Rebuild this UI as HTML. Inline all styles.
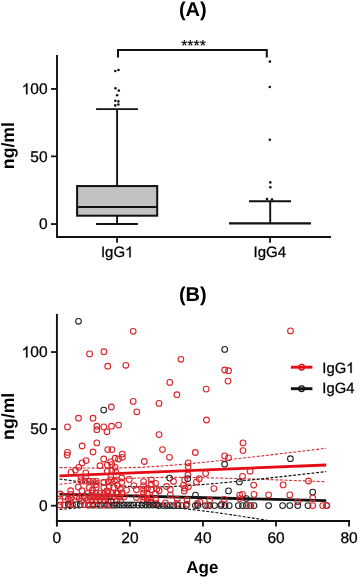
<!DOCTYPE html>
<html><head><meta charset="utf-8"><style>
html,body{margin:0;padding:0;background:#fff;}
svg{display:block;will-change:transform;}
text{font-family:"Liberation Sans",sans-serif;fill:#000;text-rendering:geometricPrecision;}
text.n{stroke:#000;stroke-width:0.28px;}
</style></head><body>
<svg width="358" height="578" viewBox="0 0 358 578">
<rect width="358" height="578" fill="#fff"/>
<text x="192.8" y="16.2" font-size="20" text-anchor="middle" font-weight="bold" >(A)</text>
<polyline points="118,57.6 118,50 266.8,50 266.8,57.6" fill="none" stroke="#111" stroke-width="2"/>
<text x="193.6" y="50.6" font-size="16" text-anchor="middle" font-weight="normal" stroke="#000" stroke-width="0.15">****</text>
<polyline points="57,55 57,237 331,237" fill="none" stroke="#111" stroke-width="1.9"/>
<line x1="51" y1="88.95" x2="57" y2="88.95" stroke="#111" stroke-width="1.8" />
<path d="M763 0L583 0L583 1147Q518 1085 412 1023Q306 961 222 930L222 1104Q373 1175 486 1276Q599 1377 646 1472L763 1472Z" fill="#000" stroke="#000" stroke-width="37.0" transform="translate(21.65,94.35) scale(0.00757,-0.00757)"/>
<text class="n" x="30.26" y="94.35000000000001" font-size="15.5">0</text>
<text class="n" x="38.88" y="94.35000000000001" font-size="15.5">0</text>
<line x1="51" y1="156.35" x2="57" y2="156.35" stroke="#111" stroke-width="1.8" />
<text class="n" x="30.26" y="161.75" font-size="15.5">5</text>
<text class="n" x="38.88" y="161.75" font-size="15.5">0</text>
<line x1="51" y1="224.05" x2="57" y2="224.05" stroke="#111" stroke-width="1.8" />
<text class="n" x="38.88" y="229.45000000000002" font-size="15.5">0</text>
<line x1="117.05" y1="237" x2="117.05" y2="242.8" stroke="#111" stroke-width="1.8" />
<line x1="270.05" y1="237" x2="270.05" y2="242.8" stroke="#111" stroke-width="1.8" />
<text class="n" x="100.9" y="257.3" font-size="15">IgG</text>
<path d="M763 0L583 0L583 1147Q518 1085 412 1023Q306 961 222 930L222 1104Q373 1175 486 1276Q599 1377 646 1472L763 1472Z" fill="#000" stroke="#000" stroke-width="38.2" transform="translate(125.08,257.30) scale(0.00732,-0.00732)"/>
<text class="n" x="253.6" y="257.4" font-size="15">IgG</text>
<text class="n" x="277.78" y="257.4" font-size="15">4</text>
<text x="0" y="0" font-size="17.7" text-anchor="middle" font-weight="bold" transform="translate(14.3,145.6) rotate(-90)">ng/ml</text>
<rect x="77.1" y="186.05" width="80.1" height="29.65" fill="#c2c2c2" stroke="#111" stroke-width="2"/>
<line x1="77.1" y1="207" x2="157.2" y2="207" stroke="#111" stroke-width="1.9" />
<line x1="117.1" y1="109.1" x2="117.1" y2="186" stroke="#111" stroke-width="1.9" />
<line x1="117.1" y1="215.7" x2="117.1" y2="224" stroke="#111" stroke-width="1.9" />
<line x1="96.1" y1="109.1" x2="137.9" y2="109.1" stroke="#111" stroke-width="1.9" />
<line x1="96.1" y1="224" x2="137.9" y2="224" stroke="#111" stroke-width="1.9" />
<circle cx="115.3" cy="71" r="1.3" fill="#111"/>
<circle cx="118.5" cy="70" r="1.3" fill="#111"/>
<circle cx="115.5" cy="88.2" r="1.3" fill="#111"/>
<circle cx="118.8" cy="90.6" r="1.3" fill="#111"/>
<circle cx="117.1" cy="95.2" r="1.3" fill="#111"/>
<circle cx="115.3" cy="100.8" r="1.3" fill="#111"/>
<circle cx="118.4" cy="101.4" r="1.3" fill="#111"/>
<circle cx="115.3" cy="105.4" r="1.3" fill="#111"/>
<circle cx="118.4" cy="104.5" r="1.3" fill="#111"/>
<line x1="229" y1="223.4" x2="311" y2="223.4" stroke="#111" stroke-width="2.4" />
<line x1="270.2" y1="201.2" x2="270.2" y2="223.4" stroke="#111" stroke-width="1.9" />
<line x1="249" y1="201.2" x2="291" y2="201.2" stroke="#111" stroke-width="1.9" />
<circle cx="269.9" cy="61.6" r="1.3" fill="#111"/>
<circle cx="269.8" cy="87" r="1.3" fill="#111"/>
<circle cx="269.8" cy="139.7" r="1.3" fill="#111"/>
<circle cx="270.3" cy="182.4" r="1.3" fill="#111"/>
<circle cx="270.3" cy="187.2" r="1.3" fill="#111"/>
<circle cx="267" cy="199" r="1.3" fill="#111"/>
<circle cx="272" cy="199.5" r="1.3" fill="#111"/>
<text x="192.8" y="300.6" font-size="20" text-anchor="middle" font-weight="bold" >(B)</text>
<line x1="56.9" y1="313.9" x2="56.9" y2="526.6" stroke="#111" stroke-width="1.9" />
<line x1="55.95" y1="521" x2="350" y2="521" stroke="#111" stroke-width="1.9" />
<line x1="51" y1="352.05" x2="56.9" y2="352.05" stroke="#111" stroke-width="1.8" />
<path d="M763 0L583 0L583 1147Q518 1085 412 1023Q306 961 222 930L222 1104Q373 1175 486 1276Q599 1377 646 1472L763 1472Z" fill="#000" stroke="#000" stroke-width="37.0" transform="translate(21.65,357.45) scale(0.00757,-0.00757)"/>
<text class="n" x="30.26" y="357.45" font-size="15.5">0</text>
<text class="n" x="38.88" y="357.45" font-size="15.5">0</text>
<line x1="51" y1="429.05" x2="56.9" y2="429.05" stroke="#111" stroke-width="1.8" />
<text class="n" x="30.26" y="434.45" font-size="15.5">5</text>
<text class="n" x="38.88" y="434.45" font-size="15.5">0</text>
<line x1="51" y1="505.7" x2="56.9" y2="505.7" stroke="#111" stroke-width="1.8" />
<text class="n" x="38.88" y="511.09999999999997" font-size="15.5">0</text>
<text class="n" x="52.59" y="543.2" font-size="15.5">0</text>
<line x1="129.9375" y1="521" x2="129.9375" y2="526.6" stroke="#111" stroke-width="1.8" />
<text class="n" x="121.32" y="543.2" font-size="15.5">2</text>
<text class="n" x="129.94" y="543.2" font-size="15.5">0</text>
<line x1="202.97500000000002" y1="521" x2="202.97500000000002" y2="526.6" stroke="#111" stroke-width="1.8" />
<text class="n" x="194.36" y="543.2" font-size="15.5">4</text>
<text class="n" x="202.98" y="543.2" font-size="15.5">0</text>
<line x1="276.0125" y1="521" x2="276.0125" y2="526.6" stroke="#111" stroke-width="1.8" />
<text class="n" x="267.39" y="543.2" font-size="15.5">6</text>
<text class="n" x="276.01" y="543.2" font-size="15.5">0</text>
<line x1="349.05" y1="521" x2="349.05" y2="526.6" stroke="#111" stroke-width="1.8" />
<text class="n" x="340.43" y="543.2" font-size="15.5">8</text>
<text class="n" x="349.05" y="543.2" font-size="15.5">0</text>
<text x="202.3" y="572.8" font-size="17" text-anchor="middle" font-weight="bold" >Age</text>
<text x="0" y="0" font-size="17.7" text-anchor="middle" font-weight="bold" transform="translate(14.3,416.3) rotate(-90)">ng/ml</text>
<line x1="290.9" y1="367.2" x2="312.4" y2="367.2" stroke="#e60a14" stroke-width="2.9" />
<circle cx="301.6" cy="367.2" r="2.8" fill="none" stroke="#e60a14" stroke-width="1.3"/>
<line x1="290.9" y1="388.7" x2="312.4" y2="388.7" stroke="#111" stroke-width="2.9" />
<circle cx="301.6" cy="388.7" r="2.8" fill="none" stroke="#111" stroke-width="1.3"/>
<text class="n" x="322.3" y="373.0" font-size="14.8">IgG</text>
<path d="M763 0L583 0L583 1147Q518 1085 412 1023Q306 961 222 930L222 1104Q373 1175 486 1276Q599 1377 646 1472L763 1472Z" fill="#000" stroke="#000" stroke-width="38.7" transform="translate(346.16,373.00) scale(0.00723,-0.00723)"/>
<text class="n" x="322.3" y="393.3" font-size="14.8">IgG</text>
<text class="n" x="346.16" y="393.3" font-size="14.8">4</text>
<clipPath id="pc"><rect x="57.85" y="300" width="300" height="220.1"/></clipPath>
<g clip-path="url(#pc)">
<polyline points="59.5,467.54 63.9,467.64 68.4,467.73 72.8,467.82 77.3,467.90 81.7,467.97 86.2,468.02 90.6,468.07 95.1,468.10 99.5,468.12 104.0,468.11 108.4,468.09 112.8,468.05 117.3,467.99 121.7,467.91 126.2,467.80 130.6,467.67 135.1,467.51 139.5,467.33 144.0,467.12 148.4,466.88 152.8,466.62 157.3,466.33 161.7,466.03 166.2,465.70 170.6,465.35 175.1,464.98 179.5,464.60 184.0,464.21 188.4,463.80 192.8,463.37 197.3,462.94 201.7,462.50 206.2,462.04 210.6,461.58 215.1,461.11 219.5,460.64 224.0,460.16 228.4,459.67 232.9,459.18 237.3,458.69 241.7,458.19 246.2,457.69 250.6,457.18 255.1,456.68 259.5,456.16 264.0,455.65 268.4,455.13 272.9,454.62 277.3,454.10 281.8,453.57 286.2,453.05 290.6,452.53 295.1,452.00 299.5,451.47 304.0,450.94 308.4,450.41 312.9,449.88 317.3,449.35 321.8,448.81 326.2,448.28" fill="none" stroke="#d0303a" stroke-width="1.1" stroke-dasharray="3 1.6"/>
<polyline points="59.5,484.26 63.9,483.80 68.4,483.34 72.8,482.89 77.3,482.45 81.7,482.02 86.2,481.60 90.6,481.19 95.1,480.79 99.5,480.41 104.0,480.05 108.4,479.71 112.8,479.39 117.3,479.08 121.7,478.80 126.2,478.55 130.6,478.32 135.1,478.11 139.5,477.93 144.0,477.78 148.4,477.65 152.8,477.55 157.3,477.47 161.7,477.42 166.2,477.38 170.6,477.37 175.1,477.37 179.5,477.39 184.0,477.42 188.4,477.47 192.8,477.53 197.3,477.60 201.7,477.68 206.2,477.77 210.6,477.86 215.1,477.97 219.5,478.08 224.0,478.20 228.4,478.32 232.9,478.45 237.3,478.58 241.7,478.71 246.2,478.85 250.6,478.99 255.1,479.14 259.5,479.29 264.0,479.44 268.4,479.59 272.9,479.74 277.3,479.90 281.8,480.06 286.2,480.22 290.6,480.38 295.1,480.54 299.5,480.71 304.0,480.87 308.4,481.04 312.9,481.21 317.3,481.38 321.8,481.55 326.2,481.72" fill="none" stroke="#d0303a" stroke-width="1.1" stroke-dasharray="3 1.6"/>
<polyline points="59.5,478.97 63.9,479.59 68.4,480.21 72.8,480.81 77.3,481.39 81.7,481.96 86.2,482.51 90.6,483.04 95.1,483.55 99.5,484.03 104.0,484.49 108.4,484.91 112.8,485.31 117.3,485.66 121.7,485.98 126.2,486.26 130.6,486.49 135.1,486.68 139.5,486.82 144.0,486.92 148.4,486.97 152.8,486.97 157.3,486.93 161.7,486.84 166.2,486.72 170.6,486.56 175.1,486.37 179.5,486.14 184.0,485.89 188.4,485.61 192.8,485.30 197.3,484.98 201.7,484.63 206.2,484.27 210.6,483.89 215.1,483.50 219.5,483.10 224.0,482.69 228.4,482.26 232.9,481.83 237.3,481.38 241.7,480.93 246.2,480.48 250.6,480.02 255.1,479.55 259.5,479.07 264.0,478.59 268.4,478.11 272.9,477.62 277.3,477.13 281.8,476.64 286.2,476.14 290.6,475.64 295.1,475.14 299.5,474.64 304.0,474.13 308.4,473.62 312.9,473.11 317.3,472.59 321.8,472.08 326.2,471.56" fill="none" stroke="#111" stroke-width="1.1" stroke-dasharray="3 1.6"/>
<polyline points="59.5,509.43 63.9,509.02 68.4,508.63 72.8,508.24 77.3,507.87 81.7,507.52 86.2,507.19 90.6,506.87 95.1,506.58 99.5,506.32 104.0,506.08 108.4,505.87 112.8,505.69 117.3,505.55 121.7,505.45 126.2,505.39 130.6,505.38 135.1,505.40 139.5,505.48 144.0,505.60 148.4,505.77 152.8,505.98 157.3,506.24 161.7,506.54 166.2,506.88 170.6,507.26 175.1,507.67 179.5,508.11 184.0,508.58 188.4,509.08 192.8,509.60 197.3,510.14 201.7,510.70 206.2,511.28 210.6,511.87 215.1,512.48 219.5,513.10 224.0,513.73 228.4,514.37 232.9,515.02 237.3,515.68 241.7,516.35 246.2,517.02 250.6,517.70 255.1,518.39 259.5,519.08 264.0,519.77 268.4,520.47 272.9,521.18 277.3,521.88 281.8,522.59 286.2,523.31 290.6,524.02 295.1,524.74 299.5,525.46 304.0,526.19 308.4,526.92 312.9,527.64 317.3,528.37 321.8,529.11 326.2,529.84" fill="none" stroke="#111" stroke-width="1.1" stroke-dasharray="3 1.6"/>
<line x1="59.5" y1="475.9" x2="326.2" y2="465.0" stroke="#e60a14" stroke-width="2.8" />
<line x1="59.5" y1="494.2" x2="326.2" y2="500.7" stroke="#111" stroke-width="2.8" />
<circle cx="78.5" cy="321.3" r="2.85" fill="none" stroke="#222" stroke-width="1.1"/>
<circle cx="133.2" cy="331.3" r="2.85" fill="none" stroke="#dc2229" stroke-width="1.1"/>
<circle cx="89.6" cy="353.9" r="2.85" fill="none" stroke="#dc2229" stroke-width="1.1"/>
<circle cx="103.9" cy="351.7" r="2.85" fill="none" stroke="#dc2229" stroke-width="1.1"/>
<circle cx="107.7" cy="366.2" r="2.85" fill="none" stroke="#dc2229" stroke-width="1.1"/>
<circle cx="125.8" cy="365.3" r="2.85" fill="none" stroke="#dc2229" stroke-width="1.1"/>
<circle cx="180.9" cy="359.3" r="2.85" fill="none" stroke="#dc2229" stroke-width="1.1"/>
<circle cx="224.7" cy="349.4" r="2.85" fill="none" stroke="#222" stroke-width="1.1"/>
<circle cx="224.7" cy="370.0" r="2.85" fill="none" stroke="#dc2229" stroke-width="1.1"/>
<circle cx="228.5" cy="370.7" r="2.85" fill="none" stroke="#dc2229" stroke-width="1.1"/>
<circle cx="290.5" cy="330.9" r="2.85" fill="none" stroke="#dc2229" stroke-width="1.1"/>
<circle cx="133.2" cy="401.4" r="2.85" fill="none" stroke="#dc2229" stroke-width="1.1"/>
<circle cx="136.8" cy="411.8" r="2.85" fill="none" stroke="#dc2229" stroke-width="1.1"/>
<circle cx="111.3" cy="407.0" r="2.85" fill="none" stroke="#dc2229" stroke-width="1.1"/>
<circle cx="103.7" cy="410.1" r="2.85" fill="none" stroke="#222" stroke-width="1.1"/>
<circle cx="78.5" cy="418.2" r="2.85" fill="none" stroke="#dc2229" stroke-width="1.1"/>
<circle cx="93.0" cy="418.2" r="2.85" fill="none" stroke="#dc2229" stroke-width="1.1"/>
<circle cx="159.0" cy="403.4" r="2.85" fill="none" stroke="#dc2229" stroke-width="1.1"/>
<circle cx="169.8" cy="382.4" r="2.85" fill="none" stroke="#dc2229" stroke-width="1.1"/>
<circle cx="176.9" cy="394.7" r="2.85" fill="none" stroke="#dc2229" stroke-width="1.1"/>
<circle cx="206.2" cy="389.1" r="2.85" fill="none" stroke="#dc2229" stroke-width="1.1"/>
<circle cx="206.5" cy="420.0" r="2.85" fill="none" stroke="#dc2229" stroke-width="1.1"/>
<circle cx="228.0" cy="381.1" r="2.85" fill="none" stroke="#dc2229" stroke-width="1.1"/>
<circle cx="67.5" cy="426.9" r="2.85" fill="none" stroke="#dc2229" stroke-width="1.1"/>
<circle cx="96.8" cy="426.2" r="2.85" fill="none" stroke="#dc2229" stroke-width="1.1"/>
<circle cx="96.8" cy="429.7" r="2.85" fill="none" stroke="#dc2229" stroke-width="1.1"/>
<circle cx="103.8" cy="426.9" r="2.85" fill="none" stroke="#dc2229" stroke-width="1.1"/>
<circle cx="107.0" cy="431.8" r="2.85" fill="none" stroke="#dc2229" stroke-width="1.1"/>
<circle cx="82.1" cy="446.0" r="2.85" fill="none" stroke="#dc2229" stroke-width="1.1"/>
<circle cx="96.8" cy="442.9" r="2.85" fill="none" stroke="#dc2229" stroke-width="1.1"/>
<circle cx="93.0" cy="452.0" r="2.85" fill="none" stroke="#dc2229" stroke-width="1.1"/>
<circle cx="67.5" cy="452.4" r="2.85" fill="none" stroke="#dc2229" stroke-width="1.1"/>
<circle cx="67.1" cy="455.1" r="2.85" fill="none" stroke="#dc2229" stroke-width="1.1"/>
<circle cx="107.7" cy="449.6" r="2.85" fill="none" stroke="#dc2229" stroke-width="1.1"/>
<circle cx="111.9" cy="449.6" r="2.85" fill="none" stroke="#dc2229" stroke-width="1.1"/>
<circle cx="111.5" cy="426.2" r="2.85" fill="none" stroke="#dc2229" stroke-width="1.1"/>
<circle cx="118.6" cy="425.1" r="2.85" fill="none" stroke="#dc2229" stroke-width="1.1"/>
<circle cx="122.3" cy="454.1" r="2.85" fill="none" stroke="#dc2229" stroke-width="1.1"/>
<circle cx="159.0" cy="434.6" r="2.85" fill="none" stroke="#dc2229" stroke-width="1.1"/>
<circle cx="162.5" cy="449.6" r="2.85" fill="none" stroke="#dc2229" stroke-width="1.1"/>
<circle cx="169.5" cy="457.3" r="2.85" fill="none" stroke="#dc2229" stroke-width="1.1"/>
<circle cx="195.3" cy="452.5" r="2.85" fill="none" stroke="#dc2229" stroke-width="1.1"/>
<circle cx="224.6" cy="455.9" r="2.85" fill="none" stroke="#dc2229" stroke-width="1.1"/>
<circle cx="228.5" cy="457.8" r="2.85" fill="none" stroke="#dc2229" stroke-width="1.1"/>
<circle cx="224.6" cy="464.2" r="2.85" fill="none" stroke="#222" stroke-width="1.1"/>
<circle cx="243.0" cy="442.9" r="2.85" fill="none" stroke="#dc2229" stroke-width="1.1"/>
<circle cx="243.0" cy="450.6" r="2.85" fill="none" stroke="#dc2229" stroke-width="1.1"/>
<circle cx="205.6" cy="473.5" r="2.85" fill="none" stroke="#dc2229" stroke-width="1.1"/>
<circle cx="250.1" cy="471.3" r="2.85" fill="none" stroke="#dc2229" stroke-width="1.1"/>
<circle cx="290.4" cy="458.7" r="2.85" fill="none" stroke="#222" stroke-width="1.1"/>
<circle cx="283.1" cy="484.9" r="2.85" fill="none" stroke="#dc2229" stroke-width="1.1"/>
<circle cx="308.5" cy="481.0" r="2.85" fill="none" stroke="#dc2229" stroke-width="1.1"/>
<circle cx="86.1" cy="460.6" r="2.85" fill="none" stroke="#dc2229" stroke-width="1.1"/>
<circle cx="82.1" cy="462.9" r="2.85" fill="none" stroke="#dc2229" stroke-width="1.1"/>
<circle cx="78.8" cy="467.3" r="2.85" fill="none" stroke="#dc2229" stroke-width="1.1"/>
<circle cx="75.4" cy="470.1" r="2.85" fill="none" stroke="#dc2229" stroke-width="1.1"/>
<circle cx="71.0" cy="472.4" r="2.85" fill="none" stroke="#dc2229" stroke-width="1.1"/>
<circle cx="85.8" cy="472.9" r="2.85" fill="none" stroke="#dc2229" stroke-width="1.1"/>
<circle cx="103.7" cy="459.0" r="2.85" fill="none" stroke="#dc2229" stroke-width="1.1"/>
<circle cx="100.0" cy="465.7" r="2.85" fill="none" stroke="#dc2229" stroke-width="1.1"/>
<circle cx="115.1" cy="458.2" r="2.85" fill="none" stroke="#dc2229" stroke-width="1.1"/>
<circle cx="118.5" cy="459.0" r="2.85" fill="none" stroke="#dc2229" stroke-width="1.1"/>
<circle cx="122.4" cy="457.3" r="2.85" fill="none" stroke="#dc2229" stroke-width="1.1"/>
<circle cx="110.6" cy="461.8" r="2.85" fill="none" stroke="#dc2229" stroke-width="1.1"/>
<circle cx="107.3" cy="465.1" r="2.85" fill="none" stroke="#dc2229" stroke-width="1.1"/>
<circle cx="111.8" cy="464.6" r="2.85" fill="none" stroke="#dc2229" stroke-width="1.1"/>
<circle cx="115.1" cy="467.3" r="2.85" fill="none" stroke="#dc2229" stroke-width="1.1"/>
<circle cx="107.3" cy="471.3" r="2.85" fill="none" stroke="#dc2229" stroke-width="1.1"/>
<circle cx="111.8" cy="470.7" r="2.85" fill="none" stroke="#dc2229" stroke-width="1.1"/>
<circle cx="115.7" cy="471.8" r="2.85" fill="none" stroke="#dc2229" stroke-width="1.1"/>
<circle cx="144.3" cy="461.5" r="2.85" fill="none" stroke="#dc2229" stroke-width="1.1"/>
<circle cx="188.2" cy="462.9" r="2.85" fill="none" stroke="#dc2229" stroke-width="1.1"/>
<circle cx="188.2" cy="466.8" r="2.85" fill="none" stroke="#dc2229" stroke-width="1.1"/>
<circle cx="187.9" cy="475.0" r="2.85" fill="none" stroke="#dc2229" stroke-width="1.1"/>
<circle cx="81.0" cy="477.3" r="2.85" fill="none" stroke="#dc2229" stroke-width="1.1"/>
<circle cx="85.5" cy="477.3" r="2.85" fill="none" stroke="#dc2229" stroke-width="1.1"/>
<circle cx="81.0" cy="480.6" r="2.85" fill="none" stroke="#dc2229" stroke-width="1.1"/>
<circle cx="85.0" cy="481.2" r="2.85" fill="none" stroke="#dc2229" stroke-width="1.1"/>
<circle cx="89.2" cy="481.2" r="2.85" fill="none" stroke="#dc2229" stroke-width="1.1"/>
<circle cx="93.1" cy="481.4" r="2.85" fill="none" stroke="#dc2229" stroke-width="1.1"/>
<circle cx="96.4" cy="481.4" r="2.85" fill="none" stroke="#dc2229" stroke-width="1.1"/>
<circle cx="96.1" cy="484.5" r="2.85" fill="none" stroke="#dc2229" stroke-width="1.1"/>
<circle cx="78.3" cy="487.0" r="2.85" fill="none" stroke="#dc2229" stroke-width="1.1"/>
<circle cx="89.2" cy="487.5" r="2.85" fill="none" stroke="#dc2229" stroke-width="1.1"/>
<circle cx="82.0" cy="490.7" r="2.85" fill="none" stroke="#dc2229" stroke-width="1.1"/>
<circle cx="70.6" cy="490.7" r="2.85" fill="none" stroke="#dc2229" stroke-width="1.1"/>
<circle cx="92.5" cy="490.0" r="2.85" fill="none" stroke="#dc2229" stroke-width="1.1"/>
<circle cx="60.2" cy="494.0" r="2.85" fill="none" stroke="#dc2229" stroke-width="1.1"/>
<circle cx="65.0" cy="496.5" r="2.85" fill="none" stroke="#dc2229" stroke-width="1.1"/>
<circle cx="71.0" cy="494.4" r="2.85" fill="none" stroke="#dc2229" stroke-width="1.1"/>
<circle cx="76.6" cy="496.5" r="2.85" fill="none" stroke="#dc2229" stroke-width="1.1"/>
<circle cx="82.5" cy="496.5" r="2.85" fill="none" stroke="#dc2229" stroke-width="1.1"/>
<circle cx="85.3" cy="498.0" r="2.85" fill="none" stroke="#dc2229" stroke-width="1.1"/>
<circle cx="79.3" cy="498.5" r="2.85" fill="none" stroke="#dc2229" stroke-width="1.1"/>
<circle cx="68.2" cy="499.0" r="2.85" fill="none" stroke="#dc2229" stroke-width="1.1"/>
<circle cx="71.0" cy="498.0" r="2.85" fill="none" stroke="#dc2229" stroke-width="1.1"/>
<circle cx="60.1" cy="501.4" r="2.85" fill="none" stroke="#dc2229" stroke-width="1.1"/>
<circle cx="70.4" cy="501.4" r="2.85" fill="none" stroke="#dc2229" stroke-width="1.1"/>
<circle cx="81.6" cy="501.0" r="2.85" fill="none" stroke="#dc2229" stroke-width="1.1"/>
<circle cx="60.1" cy="505.0" r="2.85" fill="none" stroke="#dc2229" stroke-width="1.1"/>
<circle cx="64.1" cy="505.0" r="2.85" fill="none" stroke="#dc2229" stroke-width="1.1"/>
<circle cx="70.4" cy="504.8" r="2.85" fill="none" stroke="#dc2229" stroke-width="1.1"/>
<circle cx="68.3" cy="504.6" r="2.85" fill="none" stroke="#222" stroke-width="1.1"/>
<circle cx="72.6" cy="504.6" r="2.85" fill="none" stroke="#dc2229" stroke-width="1.1"/>
<circle cx="76.4" cy="504.6" r="2.85" fill="none" stroke="#222" stroke-width="1.1"/>
<circle cx="80.2" cy="504.6" r="2.85" fill="none" stroke="#222" stroke-width="1.1"/>
<circle cx="84.5" cy="504.6" r="2.85" fill="none" stroke="#dc2229" stroke-width="1.1"/>
<circle cx="103.8" cy="482.5" r="2.85" fill="none" stroke="#dc2229" stroke-width="1.1"/>
<circle cx="110.9" cy="477.1" r="2.85" fill="none" stroke="#dc2229" stroke-width="1.1"/>
<circle cx="110.9" cy="479.8" r="2.85" fill="none" stroke="#dc2229" stroke-width="1.1"/>
<circle cx="108.2" cy="481.6" r="2.85" fill="none" stroke="#dc2229" stroke-width="1.1"/>
<circle cx="114.5" cy="480.7" r="2.85" fill="none" stroke="#dc2229" stroke-width="1.1"/>
<circle cx="96.2" cy="487.4" r="2.85" fill="none" stroke="#dc2229" stroke-width="1.1"/>
<circle cx="103.8" cy="487.4" r="2.85" fill="none" stroke="#dc2229" stroke-width="1.1"/>
<circle cx="109.1" cy="486.5" r="2.85" fill="none" stroke="#dc2229" stroke-width="1.1"/>
<circle cx="113.6" cy="487.4" r="2.85" fill="none" stroke="#dc2229" stroke-width="1.1"/>
<circle cx="106.9" cy="491.0" r="2.85" fill="none" stroke="#dc2229" stroke-width="1.1"/>
<circle cx="88.0" cy="493.4" r="2.85" fill="none" stroke="#dc2229" stroke-width="1.1"/>
<circle cx="92.0" cy="493.4" r="2.85" fill="none" stroke="#dc2229" stroke-width="1.1"/>
<circle cx="96.0" cy="493.4" r="2.85" fill="none" stroke="#dc2229" stroke-width="1.1"/>
<circle cx="100.0" cy="493.4" r="2.85" fill="none" stroke="#dc2229" stroke-width="1.1"/>
<circle cx="104.0" cy="493.4" r="2.85" fill="none" stroke="#dc2229" stroke-width="1.1"/>
<circle cx="108.0" cy="493.4" r="2.85" fill="none" stroke="#dc2229" stroke-width="1.1"/>
<circle cx="112.0" cy="493.4" r="2.85" fill="none" stroke="#dc2229" stroke-width="1.1"/>
<circle cx="116.0" cy="493.4" r="2.85" fill="none" stroke="#dc2229" stroke-width="1.1"/>
<circle cx="90.0" cy="496.9" r="2.85" fill="none" stroke="#dc2229" stroke-width="1.1"/>
<circle cx="94.0" cy="496.9" r="2.85" fill="none" stroke="#dc2229" stroke-width="1.1"/>
<circle cx="98.0" cy="496.9" r="2.85" fill="none" stroke="#dc2229" stroke-width="1.1"/>
<circle cx="102.0" cy="496.9" r="2.85" fill="none" stroke="#dc2229" stroke-width="1.1"/>
<circle cx="106.0" cy="496.9" r="2.85" fill="none" stroke="#dc2229" stroke-width="1.1"/>
<circle cx="110.0" cy="496.9" r="2.85" fill="none" stroke="#dc2229" stroke-width="1.1"/>
<circle cx="114.0" cy="496.9" r="2.85" fill="none" stroke="#dc2229" stroke-width="1.1"/>
<circle cx="88.0" cy="500.5" r="2.85" fill="none" stroke="#dc2229" stroke-width="1.1"/>
<circle cx="92.0" cy="500.5" r="2.85" fill="none" stroke="#dc2229" stroke-width="1.1"/>
<circle cx="96.0" cy="500.5" r="2.85" fill="none" stroke="#dc2229" stroke-width="1.1"/>
<circle cx="100.0" cy="500.5" r="2.85" fill="none" stroke="#dc2229" stroke-width="1.1"/>
<circle cx="104.0" cy="500.5" r="2.85" fill="none" stroke="#dc2229" stroke-width="1.1"/>
<circle cx="108.0" cy="500.5" r="2.85" fill="none" stroke="#dc2229" stroke-width="1.1"/>
<circle cx="111.0" cy="501.4" r="2.85" fill="none" stroke="#222" stroke-width="1.1"/>
<circle cx="89.0" cy="505.2" r="2.85" fill="none" stroke="#dc2229" stroke-width="1.1"/>
<circle cx="93.0" cy="505.2" r="2.85" fill="none" stroke="#222" stroke-width="1.1"/>
<circle cx="97.0" cy="505.2" r="2.85" fill="none" stroke="#dc2229" stroke-width="1.1"/>
<circle cx="100.5" cy="505.2" r="2.85" fill="none" stroke="#222" stroke-width="1.1"/>
<circle cx="104.0" cy="505.2" r="2.85" fill="none" stroke="#dc2229" stroke-width="1.1"/>
<circle cx="107.5" cy="505.2" r="2.85" fill="none" stroke="#222" stroke-width="1.1"/>
<circle cx="110.5" cy="505.2" r="2.85" fill="none" stroke="#dc2229" stroke-width="1.1"/>
<circle cx="113.6" cy="505.2" r="2.85" fill="none" stroke="#222" stroke-width="1.1"/>
<circle cx="121.7" cy="478.0" r="2.85" fill="none" stroke="#dc2229" stroke-width="1.1"/>
<circle cx="129.3" cy="479.4" r="2.85" fill="none" stroke="#dc2229" stroke-width="1.1"/>
<circle cx="121.7" cy="482.5" r="2.85" fill="none" stroke="#dc2229" stroke-width="1.1"/>
<circle cx="133.8" cy="485.6" r="2.85" fill="none" stroke="#dc2229" stroke-width="1.1"/>
<circle cx="143.6" cy="481.6" r="2.85" fill="none" stroke="#dc2229" stroke-width="1.1"/>
<circle cx="143.6" cy="485.6" r="2.85" fill="none" stroke="#dc2229" stroke-width="1.1"/>
<circle cx="143.6" cy="489.2" r="2.85" fill="none" stroke="#dc2229" stroke-width="1.1"/>
<circle cx="117.7" cy="485.6" r="2.85" fill="none" stroke="#dc2229" stroke-width="1.1"/>
<circle cx="120.4" cy="489.2" r="2.85" fill="none" stroke="#dc2229" stroke-width="1.1"/>
<circle cx="126.6" cy="490.1" r="2.85" fill="none" stroke="#dc2229" stroke-width="1.1"/>
<circle cx="136.4" cy="489.7" r="2.85" fill="none" stroke="#dc2229" stroke-width="1.1"/>
<circle cx="116.8" cy="479.8" r="2.85" fill="none" stroke="#dc2229" stroke-width="1.1"/>
<circle cx="118.0" cy="493.0" r="2.85" fill="none" stroke="#dc2229" stroke-width="1.1"/>
<circle cx="122.0" cy="493.0" r="2.85" fill="none" stroke="#dc2229" stroke-width="1.1"/>
<circle cx="120.0" cy="497.0" r="2.85" fill="none" stroke="#dc2229" stroke-width="1.1"/>
<circle cx="124.0" cy="497.0" r="2.85" fill="none" stroke="#dc2229" stroke-width="1.1"/>
<circle cx="136.4" cy="497.5" r="2.85" fill="none" stroke="#dc2229" stroke-width="1.1"/>
<circle cx="143.6" cy="493.0" r="2.85" fill="none" stroke="#dc2229" stroke-width="1.1"/>
<circle cx="143.6" cy="497.0" r="2.85" fill="none" stroke="#dc2229" stroke-width="1.1"/>
<circle cx="143.6" cy="500.5" r="2.85" fill="none" stroke="#dc2229" stroke-width="1.1"/>
<circle cx="116.8" cy="500.5" r="2.85" fill="none" stroke="#dc2229" stroke-width="1.1"/>
<circle cx="120.4" cy="501.0" r="2.85" fill="none" stroke="#dc2229" stroke-width="1.1"/>
<circle cx="116.8" cy="505.0" r="2.85" fill="none" stroke="#222" stroke-width="1.1"/>
<circle cx="120.4" cy="505.0" r="2.85" fill="none" stroke="#222" stroke-width="1.1"/>
<circle cx="123.9" cy="505.0" r="2.85" fill="none" stroke="#222" stroke-width="1.1"/>
<circle cx="127.5" cy="505.0" r="2.85" fill="none" stroke="#222" stroke-width="1.1"/>
<circle cx="130.6" cy="505.0" r="2.85" fill="none" stroke="#222" stroke-width="1.1"/>
<circle cx="133.8" cy="505.0" r="2.85" fill="none" stroke="#222" stroke-width="1.1"/>
<circle cx="169.6" cy="478.1" r="2.85" fill="none" stroke="#222" stroke-width="1.1"/>
<circle cx="173.5" cy="481.5" r="2.85" fill="none" stroke="#dc2229" stroke-width="1.1"/>
<circle cx="187.7" cy="478.7" r="2.85" fill="none" stroke="#222" stroke-width="1.1"/>
<circle cx="184.6" cy="480.0" r="2.85" fill="none" stroke="#dc2229" stroke-width="1.1"/>
<circle cx="196.4" cy="481.9" r="2.85" fill="none" stroke="#dc2229" stroke-width="1.1"/>
<circle cx="151.4" cy="479.8" r="2.85" fill="none" stroke="#dc2229" stroke-width="1.1"/>
<circle cx="151.4" cy="484.0" r="2.85" fill="none" stroke="#dc2229" stroke-width="1.1"/>
<circle cx="155.6" cy="483.3" r="2.85" fill="none" stroke="#dc2229" stroke-width="1.1"/>
<circle cx="157.0" cy="488.9" r="2.85" fill="none" stroke="#dc2229" stroke-width="1.1"/>
<circle cx="159.1" cy="490.7" r="2.85" fill="none" stroke="#dc2229" stroke-width="1.1"/>
<circle cx="166.5" cy="486.5" r="2.85" fill="none" stroke="#dc2229" stroke-width="1.1"/>
<circle cx="170.3" cy="489.6" r="2.85" fill="none" stroke="#dc2229" stroke-width="1.1"/>
<circle cx="183.5" cy="485.4" r="2.85" fill="none" stroke="#dc2229" stroke-width="1.1"/>
<circle cx="184.9" cy="488.2" r="2.85" fill="none" stroke="#dc2229" stroke-width="1.1"/>
<circle cx="184.2" cy="491.0" r="2.85" fill="none" stroke="#dc2229" stroke-width="1.1"/>
<circle cx="188.4" cy="486.8" r="2.85" fill="none" stroke="#dc2229" stroke-width="1.1"/>
<circle cx="170.3" cy="495.1" r="2.85" fill="none" stroke="#dc2229" stroke-width="1.1"/>
<circle cx="195.5" cy="495.1" r="2.85" fill="none" stroke="#222" stroke-width="1.1"/>
<circle cx="155.6" cy="500.0" r="2.85" fill="none" stroke="#dc2229" stroke-width="1.1"/>
<circle cx="177.2" cy="499.3" r="2.85" fill="none" stroke="#dc2229" stroke-width="1.1"/>
<circle cx="187.0" cy="500.0" r="2.85" fill="none" stroke="#dc2229" stroke-width="1.1"/>
<circle cx="197.5" cy="503.5" r="2.85" fill="none" stroke="#dc2229" stroke-width="1.1"/>
<circle cx="159.1" cy="505.6" r="2.85" fill="none" stroke="#222" stroke-width="1.1"/>
<circle cx="163.3" cy="505.6" r="2.85" fill="none" stroke="#222" stroke-width="1.1"/>
<circle cx="166.8" cy="505.6" r="2.85" fill="none" stroke="#222" stroke-width="1.1"/>
<circle cx="170.3" cy="505.6" r="2.85" fill="none" stroke="#222" stroke-width="1.1"/>
<circle cx="173.7" cy="505.6" r="2.85" fill="none" stroke="#222" stroke-width="1.1"/>
<circle cx="177.9" cy="505.6" r="2.85" fill="none" stroke="#222" stroke-width="1.1"/>
<circle cx="182.1" cy="505.6" r="2.85" fill="none" stroke="#222" stroke-width="1.1"/>
<circle cx="186.3" cy="505.6" r="2.85" fill="none" stroke="#222" stroke-width="1.1"/>
<circle cx="195.4" cy="505.6" r="2.85" fill="none" stroke="#222" stroke-width="1.1"/>
<circle cx="155.6" cy="503.5" r="2.85" fill="none" stroke="#dc2229" stroke-width="1.1"/>
<circle cx="165.4" cy="502.8" r="2.85" fill="none" stroke="#dc2229" stroke-width="1.1"/>
<circle cx="177.2" cy="503.5" r="2.85" fill="none" stroke="#dc2229" stroke-width="1.1"/>
<circle cx="187.0" cy="504.2" r="2.85" fill="none" stroke="#dc2229" stroke-width="1.1"/>
<circle cx="199.2" cy="478.7" r="2.85" fill="none" stroke="#dc2229" stroke-width="1.1"/>
<circle cx="213.9" cy="488.6" r="2.85" fill="none" stroke="#dc2229" stroke-width="1.1"/>
<circle cx="228.5" cy="490.9" r="2.85" fill="none" stroke="#222" stroke-width="1.1"/>
<circle cx="242.5" cy="476.3" r="2.85" fill="none" stroke="#dc2229" stroke-width="1.1"/>
<circle cx="239.4" cy="481.9" r="2.85" fill="none" stroke="#222" stroke-width="1.1"/>
<circle cx="239.7" cy="495.1" r="2.85" fill="none" stroke="#dc2229" stroke-width="1.1"/>
<circle cx="242.5" cy="494.4" r="2.85" fill="none" stroke="#dc2229" stroke-width="1.1"/>
<circle cx="239.7" cy="498.6" r="2.85" fill="none" stroke="#dc2229" stroke-width="1.1"/>
<circle cx="199.9" cy="502.1" r="2.85" fill="none" stroke="#dc2229" stroke-width="1.1"/>
<circle cx="209.7" cy="500.0" r="2.85" fill="none" stroke="#dc2229" stroke-width="1.1"/>
<circle cx="224.3" cy="499.3" r="2.85" fill="none" stroke="#dc2229" stroke-width="1.1"/>
<circle cx="221.5" cy="504.2" r="2.85" fill="none" stroke="#dc2229" stroke-width="1.1"/>
<circle cx="197.8" cy="505.6" r="2.85" fill="none" stroke="#222" stroke-width="1.1"/>
<circle cx="205.5" cy="505.6" r="2.85" fill="none" stroke="#222" stroke-width="1.1"/>
<circle cx="209.7" cy="505.6" r="2.85" fill="none" stroke="#222" stroke-width="1.1"/>
<circle cx="214.6" cy="505.6" r="2.85" fill="none" stroke="#222" stroke-width="1.1"/>
<circle cx="220.8" cy="505.6" r="2.85" fill="none" stroke="#222" stroke-width="1.1"/>
<circle cx="225.0" cy="505.6" r="2.85" fill="none" stroke="#222" stroke-width="1.1"/>
<circle cx="229.2" cy="505.6" r="2.85" fill="none" stroke="#222" stroke-width="1.1"/>
<circle cx="238.3" cy="505.6" r="2.85" fill="none" stroke="#222" stroke-width="1.1"/>
<circle cx="242.5" cy="505.6" r="2.85" fill="none" stroke="#222" stroke-width="1.1"/>
<circle cx="207.6" cy="505.6" r="2.85" fill="none" stroke="#dc2229" stroke-width="1.1"/>
<circle cx="253.7" cy="485.1" r="2.85" fill="none" stroke="#dc2229" stroke-width="1.1"/>
<circle cx="254.0" cy="494.4" r="2.85" fill="none" stroke="#dc2229" stroke-width="1.1"/>
<circle cx="268.6" cy="494.9" r="2.85" fill="none" stroke="#dc2229" stroke-width="1.1"/>
<circle cx="289.8" cy="494.9" r="2.85" fill="none" stroke="#dc2229" stroke-width="1.1"/>
<circle cx="246.3" cy="498.6" r="2.85" fill="none" stroke="#222" stroke-width="1.1"/>
<circle cx="246.3" cy="505.6" r="2.85" fill="none" stroke="#222" stroke-width="1.1"/>
<circle cx="250.5" cy="505.6" r="2.85" fill="none" stroke="#222" stroke-width="1.1"/>
<circle cx="254.0" cy="505.6" r="2.85" fill="none" stroke="#222" stroke-width="1.1"/>
<circle cx="268.6" cy="505.6" r="2.85" fill="none" stroke="#222" stroke-width="1.1"/>
<circle cx="282.6" cy="505.6" r="2.85" fill="none" stroke="#222" stroke-width="1.1"/>
<circle cx="289.8" cy="505.6" r="2.85" fill="none" stroke="#222" stroke-width="1.1"/>
<circle cx="249.8" cy="505.6" r="2.85" fill="none" stroke="#dc2229" stroke-width="1.1"/>
<circle cx="312.7" cy="492.1" r="2.85" fill="none" stroke="#222" stroke-width="1.1"/>
<circle cx="312.7" cy="497.9" r="2.85" fill="none" stroke="#dc2229" stroke-width="1.1"/>
<circle cx="297.8" cy="501.8" r="2.85" fill="none" stroke="#dc2229" stroke-width="1.1"/>
<circle cx="308.0" cy="505.6" r="2.85" fill="none" stroke="#222" stroke-width="1.1"/>
<circle cx="326.6" cy="505.6" r="2.85" fill="none" stroke="#222" stroke-width="1.1"/>
<circle cx="297.8" cy="505.6" r="2.85" fill="none" stroke="#222" stroke-width="1.1"/>
<circle cx="312.7" cy="505.6" r="2.85" fill="none" stroke="#dc2229" stroke-width="1.1"/>
<circle cx="322.7" cy="505.6" r="2.85" fill="none" stroke="#dc2229" stroke-width="1.1"/>
<circle cx="326.9" cy="505.6" r="2.85" fill="none" stroke="#dc2229" stroke-width="1.1"/>
<circle cx="147.4" cy="488.5" r="2.85" fill="none" stroke="#dc2229" stroke-width="1.1"/>
<circle cx="147.4" cy="493.4" r="2.85" fill="none" stroke="#dc2229" stroke-width="1.1"/>
<circle cx="147.4" cy="498.3" r="2.85" fill="none" stroke="#dc2229" stroke-width="1.1"/>
<circle cx="151.1" cy="489.7" r="2.85" fill="none" stroke="#dc2229" stroke-width="1.1"/>
<circle cx="151.1" cy="497.7" r="2.85" fill="none" stroke="#dc2229" stroke-width="1.1"/>
<circle cx="155.4" cy="494.0" r="2.85" fill="none" stroke="#dc2229" stroke-width="1.1"/>
<circle cx="147.4" cy="502.0" r="2.85" fill="none" stroke="#dc2229" stroke-width="1.1"/>
<circle cx="151.1" cy="502.0" r="2.85" fill="none" stroke="#dc2229" stroke-width="1.1"/>
<circle cx="138.2" cy="505.0" r="2.85" fill="none" stroke="#222" stroke-width="1.1"/>
<circle cx="141.9" cy="505.0" r="2.85" fill="none" stroke="#222" stroke-width="1.1"/>
<circle cx="145.6" cy="505.0" r="2.85" fill="none" stroke="#222" stroke-width="1.1"/>
<circle cx="149.3" cy="505.0" r="2.85" fill="none" stroke="#222" stroke-width="1.1"/>
<circle cx="153.0" cy="505.0" r="2.85" fill="none" stroke="#222" stroke-width="1.1"/>
<circle cx="156.7" cy="505.0" r="2.85" fill="none" stroke="#222" stroke-width="1.1"/>
<circle cx="88.3" cy="505.0" r="2.85" fill="none" stroke="#dc2229" stroke-width="1.1"/>
</g>
</svg>
</body></html>
